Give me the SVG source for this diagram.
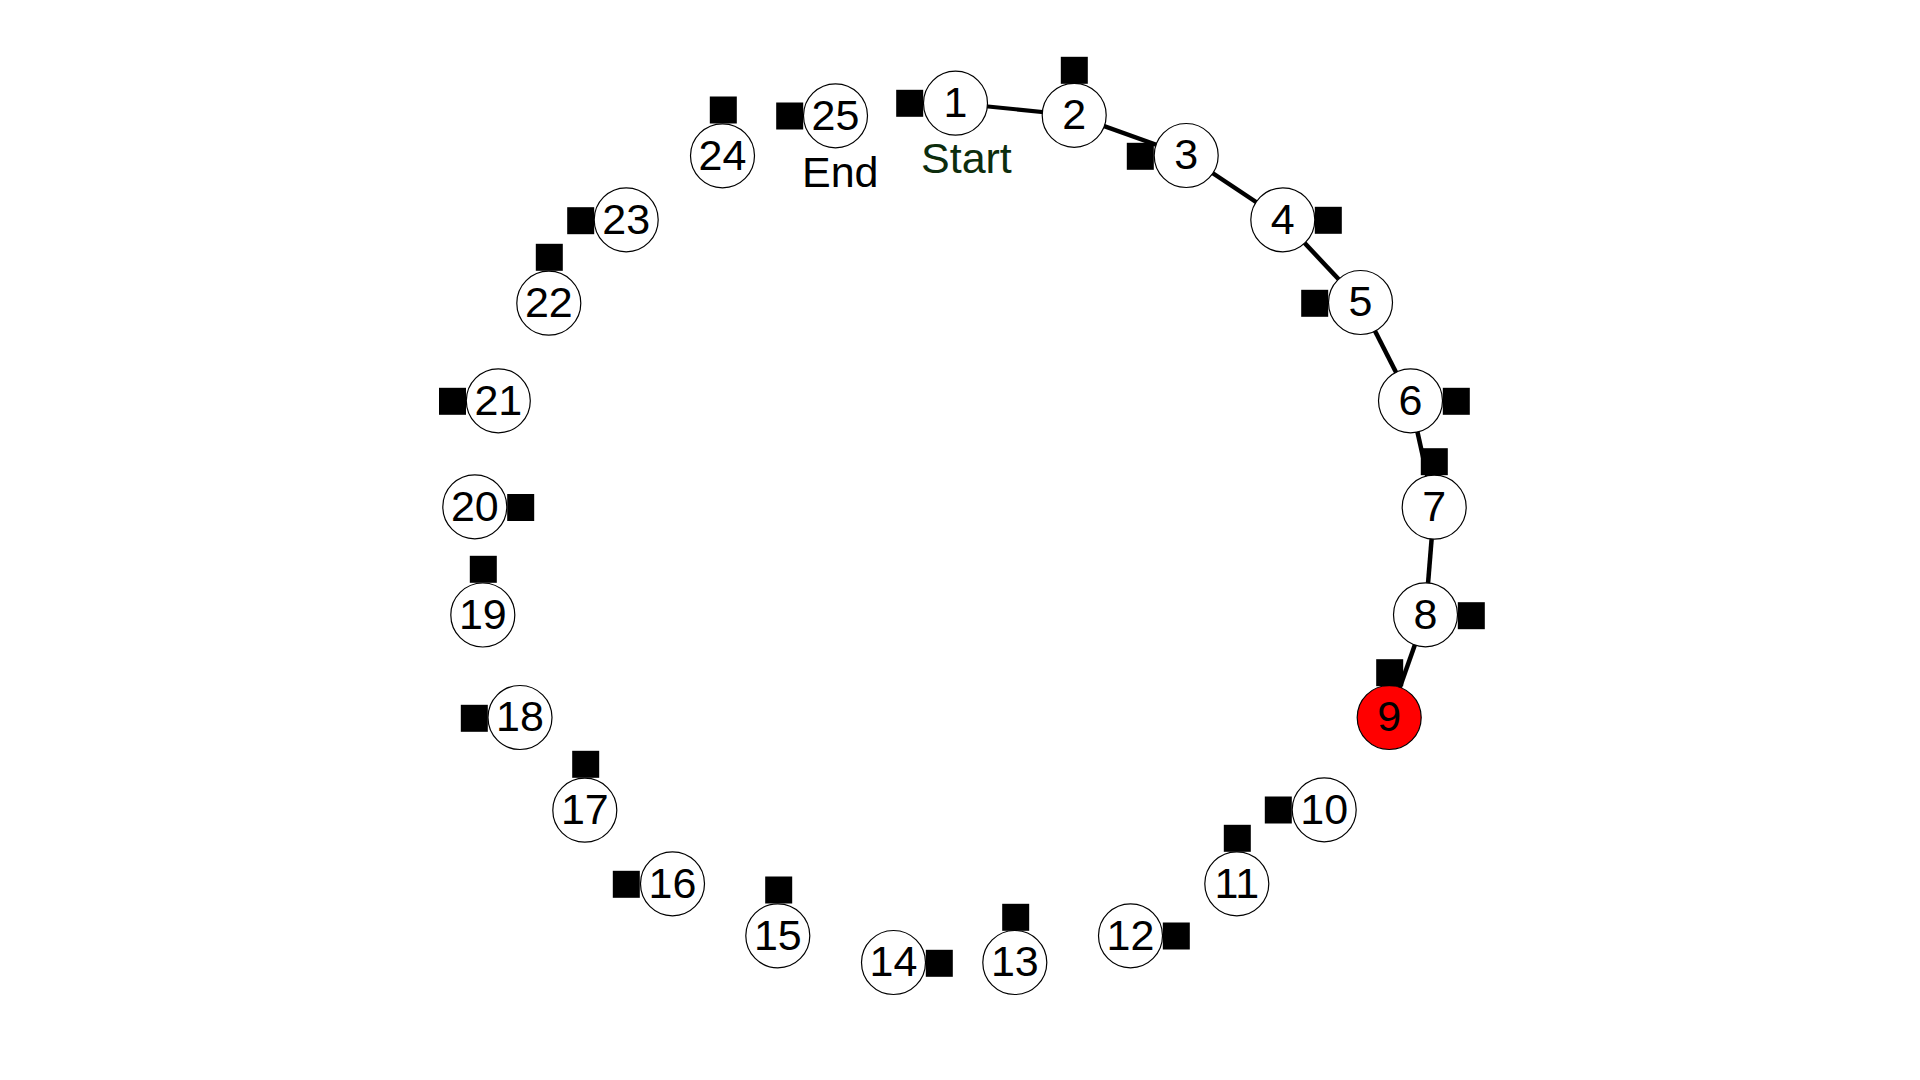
<svg xmlns="http://www.w3.org/2000/svg" width="1920" height="1080" viewBox="0 0 1920 1080">
<style>
.n circle{fill:#fff;stroke:#000;stroke-width:1.2}
.n rect{fill:#000}
.n text{font-family:"Liberation Sans",Arial,sans-serif;font-size:43px;fill:#000;text-anchor:middle}
#n9 circle{fill:#ff0000}
.e line{stroke:#000;stroke-width:4.5;stroke-linecap:butt}
.lbl{font-family:"Liberation Sans",Arial,sans-serif;font-size:43px}
</style>
<rect width="1920" height="1080" fill="#fff"/>
<g id="edges" class="e">
<line x1="955.5" y1="103.2" x2="1074.2" y2="115.3" style="stroke-width:4"/>
<line x1="1074.2" y1="115.3" x2="1186.2" y2="155.5"/>
<line x1="1186.2" y1="155.5" x2="1282.8" y2="219.8"/>
<line x1="1282.8" y1="219.8" x2="1360.5" y2="302.5"/>
<line x1="1360.5" y1="302.5" x2="1410.5" y2="400.8"/>
<line x1="1410.5" y1="400.8" x2="1434.2" y2="507.2"/>
<line x1="1434.2" y1="507.2" x2="1425.5" y2="614.8"/>
<line x1="1425.5" y1="614.8" x2="1389.2" y2="717.5"/>
</g>
<g id="n1" class="n"><circle cx="955.5" cy="103.2" r="32"/><text x="955.5" y="117">1</text><rect x="896.2" y="89.8" width="27" height="27"/></g>
<g id="n2" class="n"><circle cx="1074.2" cy="115.3" r="32"/><text x="1074.2" y="129.1">2</text><rect x="1060.8" y="56.8" width="27" height="27"/></g>
<g id="n3" class="n"><circle cx="1186.2" cy="155.5" r="32"/><text x="1186.2" y="169.3">3</text><rect x="1126.8" y="142.8" width="27" height="27"/></g>
<g id="n4" class="n"><circle cx="1282.8" cy="219.8" r="32"/><text x="1282.8" y="233.6">4</text><rect x="1314.8" y="206.8" width="27" height="27"/></g>
<g id="n5" class="n"><circle cx="1360.5" cy="302.5" r="32"/><text x="1360.5" y="316.3">5</text><rect x="1301.2" y="289.8" width="27" height="27"/></g>
<g id="n6" class="n"><circle cx="1410.5" cy="400.8" r="32"/><text x="1410.5" y="414.6">6</text><rect x="1442.8" y="387.8" width="27" height="27"/></g>
<g id="n7" class="n"><circle cx="1434.2" cy="507.2" r="32"/><text x="1434.2" y="521">7</text><rect x="1420.8" y="448.2" width="27" height="27"/></g>
<g id="n8" class="n"><circle cx="1425.5" cy="614.8" r="32"/><text x="1425.5" y="628.6">8</text><rect x="1457.8" y="602.2" width="27" height="27"/></g>
<g id="n9" class="n"><circle cx="1389.2" cy="717.5" r="32"/><text x="1389.2" y="731.3">9</text><rect x="1376.2" y="659.2" width="27" height="27"/></g>
<g id="n10" class="n"><circle cx="1324.2" cy="809.8" r="32"/><text x="1324.2" y="823.6">10</text><rect x="1264.8" y="796.5" width="27" height="27"/></g>
<g id="n11" class="n"><circle cx="1236.8" cy="883.8" r="32"/><text x="1236.8" y="897.6">11</text><rect x="1223.8" y="824.8" width="27" height="27"/></g>
<g id="n12" class="n"><circle cx="1130.5" cy="935.8" r="32"/><text x="1130.5" y="949.6">12</text><rect x="1162.8" y="922.5" width="27" height="27"/></g>
<g id="n13" class="n"><circle cx="1014.8" cy="962.5" r="32"/><text x="1014.8" y="976.3">13</text><rect x="1002.2" y="903.8" width="27" height="27"/></g>
<g id="n14" class="n"><circle cx="893.5" cy="962.5" r="32"/><text x="893.5" y="976.3">14</text><rect x="925.8" y="949.8" width="27" height="27"/></g>
<g id="n15" class="n"><circle cx="777.8" cy="935.8" r="32"/><text x="777.8" y="949.6">15</text><rect x="765.2" y="876.5" width="27" height="27"/></g>
<g id="n16" class="n"><circle cx="672.5" cy="883.8" r="32"/><text x="672.5" y="897.6">16</text><rect x="612.8" y="870.8" width="27" height="27"/></g>
<g id="n17" class="n"><circle cx="584.8" cy="810.2" r="32"/><text x="584.8" y="824">17</text><rect x="572.2" y="750.8" width="27" height="27"/></g>
<g id="n18" class="n"><circle cx="520" cy="717.5" r="32"/><text x="520" y="731.3">18</text><rect x="460.8" y="704.8" width="27" height="27"/></g>
<g id="n19" class="n"><circle cx="482.8" cy="615" r="32"/><text x="482.8" y="628.8">19</text><rect x="469.8" y="555.8" width="27" height="27"/></g>
<g id="n20" class="n"><circle cx="474.8" cy="506.8" r="32"/><text x="474.8" y="520.6">20</text><rect x="507.2" y="494" width="27" height="27"/></g>
<g id="n21" class="n"><circle cx="498.3" cy="400.8" r="32"/><text x="498.3" y="414.6">21</text><rect x="439" y="387.8" width="27" height="27"/></g>
<g id="n22" class="n"><circle cx="548.8" cy="303.2" r="32"/><text x="548.8" y="317">22</text><rect x="535.8" y="243.8" width="27" height="27"/></g>
<g id="n23" class="n"><circle cx="626.2" cy="219.8" r="32"/><text x="626.2" y="233.6">23</text><rect x="567.2" y="207.2" width="27" height="27"/></g>
<g id="n24" class="n"><circle cx="722.5" cy="155.8" r="32"/><text x="722.5" y="169.6">24</text><rect x="709.8" y="96.5" width="27" height="27"/></g>
<g id="n25" class="n"><circle cx="835.5" cy="115.8" r="32"/><text x="835.5" y="129.6">25</text><rect x="776.2" y="102.5" width="27" height="27"/></g>
<g id="labels">
<text class="lbl" x="921" y="173.3" fill="#0d2d0d">Start</text>
<text class="lbl" x="802" y="186.7" fill="#000">End</text>
</g>
</svg>
